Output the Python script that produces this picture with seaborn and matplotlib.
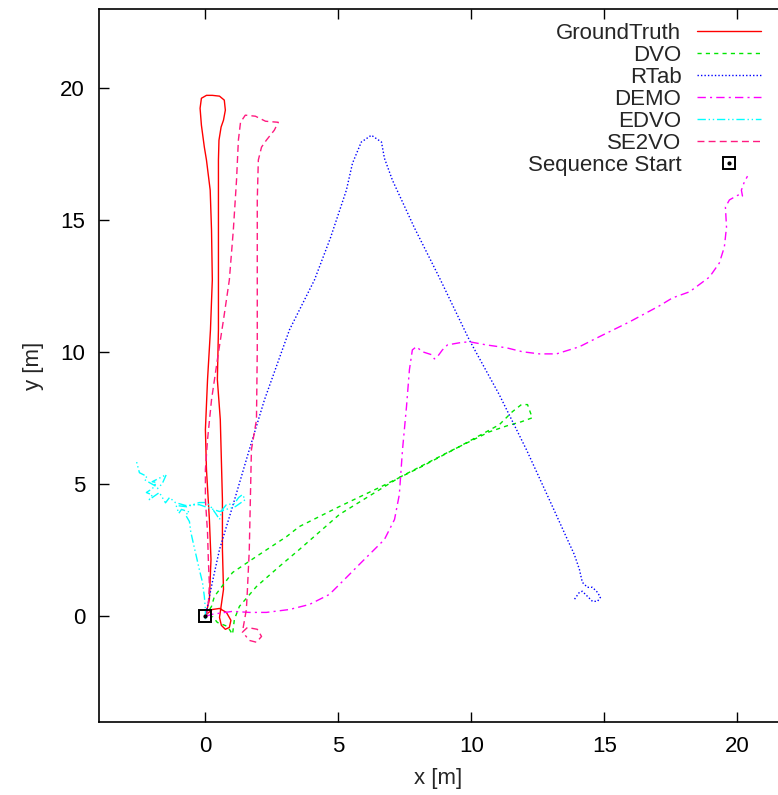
import matplotlib

matplotlib.use("Agg")
import matplotlib.pyplot as plt
import pandas as pd
import seaborn as sns

# trajectories (metres)
gt_x = [0.0, 0.15, 0.21, 0.15, 0.04, 0.0, 0.08, 0.19, 0.26, 0.23, 0.18, 0.04, -0.04,
        -0.15, -0.20, -0.15, 0.04, 0.26, 0.53, 0.71, 0.75, 0.68, 0.59, 0.51, 0.49,
        0.49, 0.49, 0.49, 0.45, 0.56, 0.59, 0.64, 0.64, 0.68, 0.60, 0.53, 0.60, 0.75,
        0.90, 0.96, 0.79, 0.53, 0.26, 0.08]
gt_y = [0.0, 0.64, 2.16, 3.67, 5.56, 7.07, 8.96, 10.85, 12.74, 14.63, 16.14, 17.28,
        17.77, 18.60, 19.24, 19.62, 19.73, 19.73, 19.70, 19.55, 19.17, 18.79, 18.53,
        18.03, 17.28, 15.27, 12.74, 10.85, 8.96, 7.45, 6.31, 4.42, 2.53, 1.02, 0.45,
        -0.04, -0.34, -0.49, -0.42, -0.15, 0.15, 0.30, 0.26, 0.11]

dvo_x = [0.0, 0.23, 0.34, 1.02, 1.92, 3.05, 3.53, 5.04, 6.54, 8.05, 9.55, 11.05,
         11.54, 11.88, 12.11, 12.22, 12.29, 11.88, 11.35, 10.68, 9.17, 7.29, 5.04,
         3.53, 2.78, 1.92, 1.28, 1.09, 1.02, 0.83, 0.45, 0.26]
dvo_y = [0.0, 0.38, 0.76, 1.66, 2.27, 3.02, 3.40, 4.16, 4.88, 5.63, 6.43, 7.26, 7.75,
         8.02, 8.02, 7.71, 7.52, 7.37, 7.22, 6.99, 6.24, 5.26, 3.86, 2.53, 1.89, 1.13,
         0.38, -0.11, -0.68, -0.38, -0.23, 0.0]

rtab_x = [0.0, 0.04, 0.26, 0.53, 1.02, 1.65, 2.22, 3.16, 4.10, 4.70, 5.30, 5.53, 5.86,
          6.24, 6.62, 6.73, 7.03, 7.86, 8.80, 9.92, 11.05, 12.07, 12.93, 13.61, 13.87,
          14.06, 14.17, 14.36, 14.55, 14.74, 14.85, 14.74, 14.55, 14.36, 14.17, 14.06,
          13.87]
rtab_y = [0.0, 0.19, 1.29, 2.53, 4.16, 6.31, 8.20, 10.85, 12.74, 14.33, 16.14, 17.16,
          17.96, 18.22, 17.96, 17.35, 16.52, 14.71, 12.82, 10.47, 8.39, 6.31, 4.42,
          2.91, 2.34, 1.78, 1.29, 1.10, 1.10, 0.91, 0.72, 0.57, 0.57, 0.76, 0.95, 0.91,
          0.64]

demo_x = [0.0, 0.26, 1.02, 1.65, 2.29, 3.16, 3.91, 4.66, 5.23, 5.79, 6.35, 6.73, 7.11,
          7.29, 7.41, 7.56, 7.67, 7.78, 7.93, 8.16, 8.50, 8.61, 8.72, 8.91, 9.10, 9.55,
          9.92, 10.56, 11.32, 11.92, 12.56, 13.20, 14.06, 14.81, 15.94, 17.07, 17.56,
          18.20, 18.95, 19.32, 19.51, 19.59, 19.55, 19.70, 19.96, 20.11, 20.19, 20.15,
          20.26, 20.38]
demo_y = [0.0, 0.08, 0.19, 0.15, 0.15, 0.26, 0.45, 0.83, 1.40, 1.97, 2.53, 2.91, 3.67,
          4.61, 6.31, 7.94, 9.34, 10.09, 10.21, 10.02, 9.91, 9.75, 9.83, 10.09, 10.28,
          10.36, 10.40, 10.28, 10.17, 10.02, 9.94, 9.94, 10.21, 10.59, 11.15, 11.76,
          12.06, 12.29, 12.85, 13.38, 13.99, 14.74, 15.50, 15.77, 15.92, 15.99, 15.92,
          16.14, 16.45, 16.67]

edvo_x = [0.0, 0.0, -0.04, -0.11, -0.23, -0.34, -0.45, -0.55, -0.60, -0.75, -0.60,
          -0.90, -1.00, -1.10, -0.70, -0.23, 0.04, 0.23, 0.41, 0.53, 0.64, 0.79, 1.09,
          1.25, 1.39, 1.50, 1.13, 0.53, -0.23, -0.75, -1.13, -1.35, -1.50, -1.73, -2.11,
          -2.00, -2.22, -1.99, -1.84, -2.00, -1.62, -1.47, -1.62, -1.80, -1.90, -2.11,
          -2.29, -2.20, -2.48, -2.59]
edvo_y = [-0.11, 0.26, 0.76, 1.29, 1.78, 2.27, 2.75, 3.20, 3.59, 3.85, 3.95, 4.05,
          3.90, 4.20, 4.15, 4.31, 4.31, 4.12, 3.86, 3.67, 4.05, 4.23, 4.27, 4.50, 4.61,
          4.42, 4.16, 3.97, 4.23, 4.20, 4.31, 4.50, 4.30, 4.69, 4.42, 4.60, 4.69, 4.84,
          5.07, 5.10, 5.29, 5.37, 5.03, 4.84, 4.95, 5.07, 5.18, 5.30, 5.44, 5.86]

se2vo_x = [0.04, 0.11, 0.15, 0.11, 0.08, 0.0, 0.0, 0.08, 0.23, 0.45, 0.68, 0.90, 1.05,
           1.17, 1.24, 1.32, 1.50, 1.88, 2.26, 2.74, 2.59, 2.29, 2.11, 1.99, 1.95, 1.95,
           1.95, 1.92, 1.73, 1.69, 1.65, 1.58, 1.54, 1.39, 1.58, 1.95, 2.11, 1.92, 1.65,
           1.50]
se2vo_y = [0.0, 0.45, 1.21, 2.16, 3.18, 4.42, 5.56, 6.69, 8.20, 9.72, 11.23, 12.74,
           14.63, 16.52, 18.03, 18.71, 18.98, 18.94, 18.75, 18.71, 18.41, 18.03, 17.77,
           17.28, 15.77, 12.74, 10.09, 7.45, 6.31, 4.42, 2.53, 1.02, 0.26, -0.60, -0.42,
           -0.49, -0.76, -0.98, -0.91, -0.72]

start_x = [0.0]
start_y = [0.0]

methods = ["GroundTruth", "DVO", "RTab", "DEMO", "EDVO", "SE2VO"]
colors = ["#ff0000", "#00e600", "#0000ff", "#ff00ff", "#00ffff", "#ff1a80"]
styles = ["-", (0, (3, 3)), (0, (1, 1.5)), (0, (6, 3, 1.5, 3)),
          (0, (6, 2, 1, 2, 1, 2)), (0, (5, 3))]
paths = [(gt_x, gt_y), (dvo_x, dvo_y), (rtab_x, rtab_y),
         (demo_x, demo_y), (edvo_x, edvo_y), (se2vo_x, se2vo_y)]

sns.set_style("ticks")
plt.rcParams["font.family"] = ["Liberation Sans", "DejaVu Sans"]
plt.rcParams["font.size"] = 16

fig = plt.figure(figsize=(7.78, 7.95), dpi=100)
ax = fig.add_axes([99 / 778, 73 / 795, 679 / 778, 713 / 795])

for name, col, ls, (px, py) in zip(methods, colors, styles, paths):
    df = pd.DataFrame({"x": px, "y": py})
    sns.lineplot(data=df, x="x", y="y", sort=False, estimator=None, ax=ax,
                 color=col, linestyle=ls, linewidth=1.0, label=name)

sq, = ax.plot(start_x, start_y, marker="s", ms=8, mfc="none", mec="black",
              mew=1.4, ls="none")
dot, = ax.plot(start_x, start_y, marker="o", ms=2, color="black", ls="none")

ax.set_xlim(-4, -4 + 679 / 26.6)
ax.set_ylim(-4, 23)
ax.set_xticks([0, 5, 10, 15, 20])
ax.set_yticks([0, 5, 10, 15, 20])
ax.set_xlabel("x [m]", labelpad=8)
ax.set_ylabel("y [m]", labelpad=12)
ax.tick_params(direction="in", length=7, width=1, pad=10, top=True,
               colors="black", labelsize=16)
for side in ["left", "bottom", "top"]:
    ax.spines[side].set_linewidth(1.2)
    ax.spines[side].set_color("black")
ax.spines["right"].set_visible(False)

handles, labels = ax.get_legend_handles_labels()
handles = handles[:6] + [(sq, dot)]
labels = labels[:6] + ["Sequence Start"]
ax.legend(handles, labels, loc="upper right", bbox_to_anchor=(0.975, 0.981),
          markerfirst=False, frameon=False, handlelength=2.9, handletextpad=0.68,
          labelspacing=0.05, borderpad=0, borderaxespad=0, fontsize=16)

fig.savefig("out.png", dpi=100)
